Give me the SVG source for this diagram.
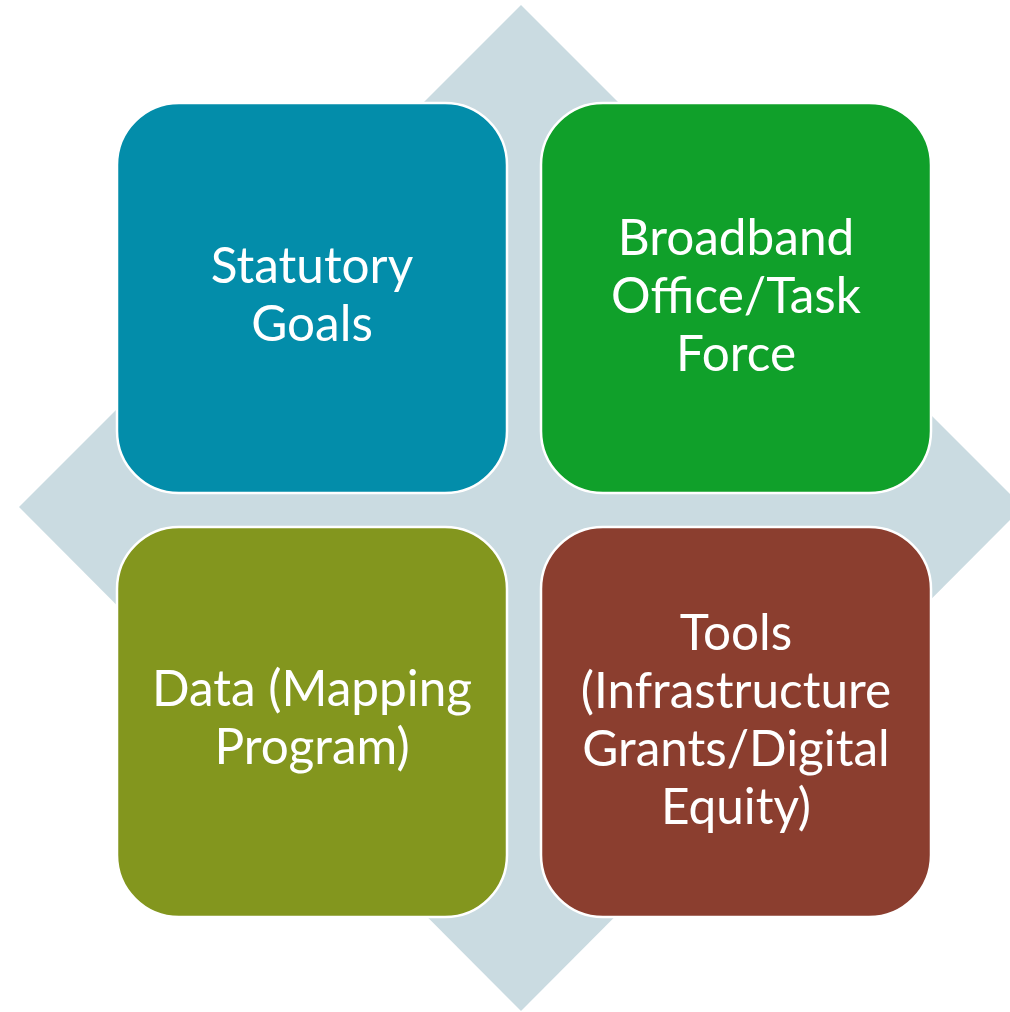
<svg xmlns="http://www.w3.org/2000/svg" width="1010" height="1012" viewBox="0 0 1010 1012">
<style>
.box{stroke:#ffffff;stroke-width:2.5}
.t{font-family:Lato,"Open Sans","Liberation Sans",sans-serif;font-size:49.5px;fill:#ffffff;text-anchor:middle}
</style>
<rect width="1010" height="1012" fill="#ffffff"/>
<polygon id="diamond" points="521,5 1023,507 521,1011 19,507" fill="#CADBE1"/>
<g id="statutory-goals">
<rect class="box" x="117" y="103" width="390" height="390" rx="62" fill="#038DAA"/>
<text class="t" x="312" y="283">Statutory</text>
<text class="t" x="312" y="341">Goals</text>
</g>
<g id="broadband-office">
<rect class="box" x="541" y="103" width="390" height="390" rx="62" fill="#10A02A"/>
<text class="t" x="736" y="255">Broadband</text>
<text class="t" x="736" y="313">Office/Task</text>
<text class="t" x="736" y="371">Force</text>
</g>
<g id="data-mapping">
<rect class="box" x="117" y="527" width="390" height="390" rx="62" fill="#83961E"/>
<text class="t" x="312" y="706">Data (Mapping</text>
<text class="t" x="312" y="764">Program)</text>
</g>
<g id="tools">
<rect class="box" x="541" y="527" width="390" height="390" rx="62" fill="#8B3E2F"/>
<text class="t" x="736" y="650">Tools</text>
<text class="t" x="736" y="708">(Infrastructure</text>
<text class="t" x="736" y="766">Grants/Digital</text>
<text class="t" x="736" y="824">Equity)</text>
</g>
<g id="connectors"/>
</svg>
